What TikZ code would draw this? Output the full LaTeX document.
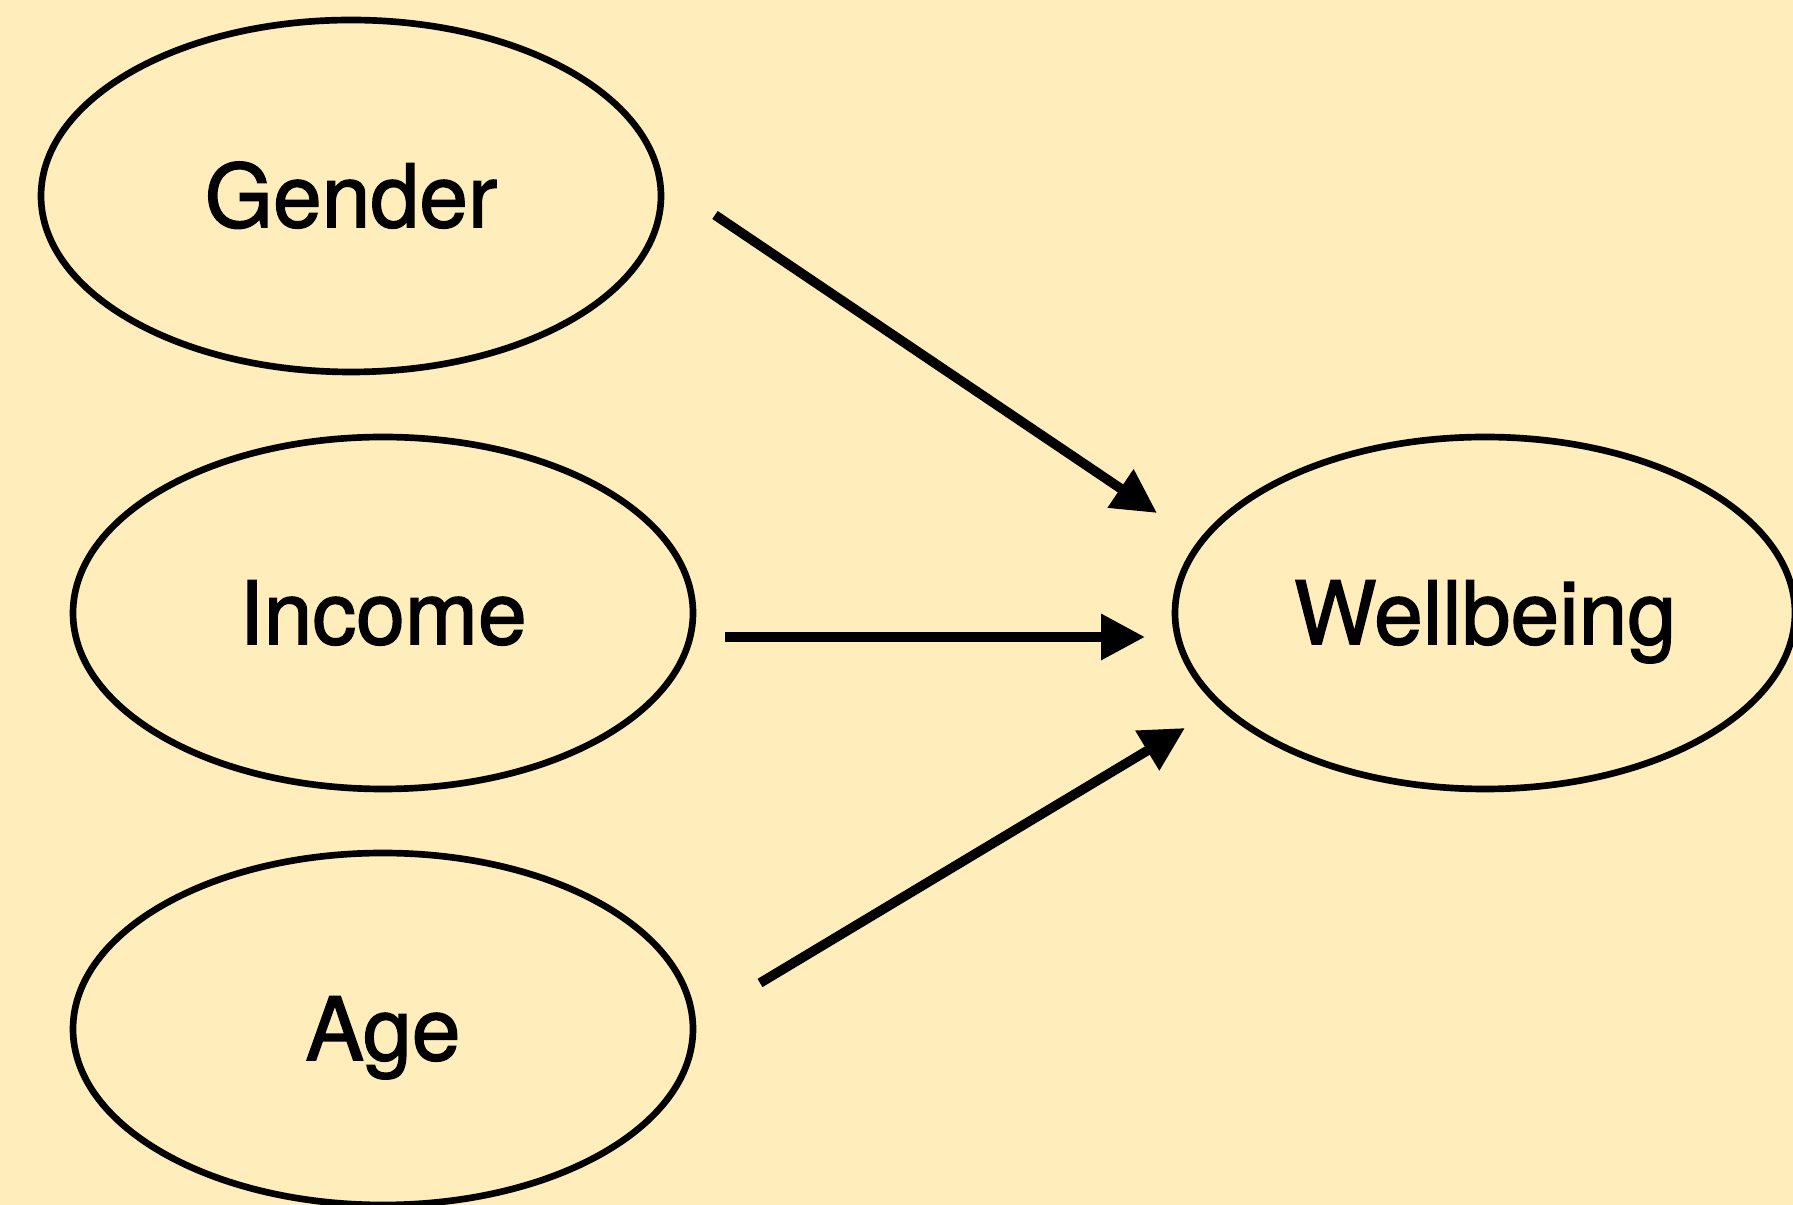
\documentclass[tikz,border=0pt]{standalone}
\usepackage{fontspec}
\setmainfont[FakeBold=1.6]{TeX Gyre Heros}
\usetikzlibrary{arrows.meta,shapes.geometric}
\definecolor{bgyellow}{RGB}{255,237,188}
\begin{document}
\begin{tikzpicture}[x=0.3pt, y=-0.3pt, line width=2pt,
		main/.style = {draw, ellipse, inner sep=0pt, minimum width=186pt, minimum height=105.6pt,
			font=\fontsize{26.3}{30}\selectfont, text height=18.7pt, text depth=0pt},
		link/.style = {line width=2.9pt, -{Triangle[length=13.2pt, width=13.2pt]}}]
		\useasboundingbox (0,0) rectangle (1793,1205);
		\fill[bgyellow] (0,0) rectangle (1793,1205);
		\node[main] (gender) at (351,196) {Gender};
		\node[main] (income) at (383,613) {Income};
		\node[main] (age) at (383,1029) {Age};
		\node[main] (wellbeing) at (1485,613) {Wellbeing};
		\coordinate (g1) at (715,215);
		\coordinate (g2) at (1157,513);
		\coordinate (i1) at (725,637);
		\coordinate (i2) at (1145,637);
		\coordinate (a1) at (760,983);
		\coordinate (a2) at (1185,728);
		\draw[link] (g1) -- (g2);
		\draw[link] (i1) -- (i2);
		\draw[link] (a1) -- (a2);
	\end{tikzpicture}
\end{document}
